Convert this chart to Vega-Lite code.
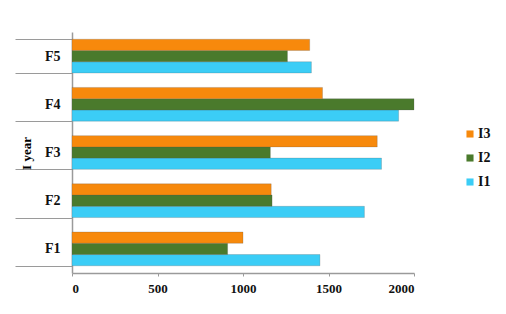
{
  "$schema": "https://vega.github.io/schema/vega-lite/v6.json",
  "width": 342,
  "height": 241,
  "autosize": "none",
  "padding": {"left": 72, "top": 32, "right": 92, "bottom": 41},
  "background": "white",
  "data": {
    "values": [
      {"year": "F1", "series": "I1", "value": 1450},
      {"year": "F1", "series": "I2", "value": 910},
      {"year": "F1", "series": "I3", "value": 1000},
      {"year": "F2", "series": "I1", "value": 1710},
      {"year": "F2", "series": "I2", "value": 1170},
      {"year": "F2", "series": "I3", "value": 1165},
      {"year": "F3", "series": "I1", "value": 1810},
      {"year": "F3", "series": "I2", "value": 1160},
      {"year": "F3", "series": "I3", "value": 1785},
      {"year": "F4", "series": "I1", "value": 1910},
      {"year": "F4", "series": "I2", "value": 2000},
      {"year": "F4", "series": "I3", "value": 1465},
      {"year": "F5", "series": "I1", "value": 1400},
      {"year": "F5", "series": "I2", "value": 1260},
      {"year": "F5", "series": "I3", "value": 1390}
    ]
  },
  "mark": {"type": "bar", "stroke": "#555555", "strokeWidth": 0.4, "strokeOpacity": 0.6},
  "encoding": {
    "y": {
      "field": "year",
      "type": "nominal",
      "sort": ["F5", "F4", "F3", "F2", "F1"],
      "scale": {"paddingInner": 0.3, "paddingOuter": 0.15},
      "axis": {
        "title": "I year",
        "titleFont": "Liberation Serif",
        "titleFontSize": 13,
        "titleFontWeight": "bold",
        "titleColor": "#000000",
        "titleX": -46,
        "titleY": 121,
        "titleAlign": "center",
        "titleBaseline": "middle",
        "labelFont": "Liberation Serif",
        "labelFontSize": 14,
        "labelFontWeight": "bold",
        "labelColor": "#111111",
        "labelPadding": -45,
        "tickBand": "extent",
        "tickSize": 57,
        "tickColor": "#9a9a9a",
        "domainColor": "#9a9a9a",
        "domainWidth": 1.5
      }
    },
    "yOffset": {"field": "series", "type": "nominal", "sort": ["I3", "I2", "I1"]},
    "x": {
      "field": "value",
      "type": "quantitative",
      "scale": {"domain": [0, 2000], "nice": false},
      "axis": {
        "title": null,
        "values": [0, 500, 1000, 1500, 2000],
        "format": "d",
        "grid": false,
        "labelFont": "Liberation Serif",
        "labelFontSize": 13,
        "labelFontWeight": "bold",
        "labelColor": "#111111",
        "labelPadding": 6,
        "tickSize": 3,
        "tickColor": "#9a9a9a",
        "domainColor": "#9a9a9a",
        "domainWidth": 1.5
      }
    },
    "color": {
      "field": "series",
      "type": "nominal",
      "scale": {"domain": ["I3", "I2", "I1"], "range": ["#F7890C", "#4A7A2C", "#3BCDF6"]},
      "legend": {
        "title": null,
        "orient": "none",
        "legendX": 391,
        "legendY": 95,
        "symbolType": "square",
        "symbolSize": 50,
        "symbolStrokeWidth": 0,
        "rowPadding": 10,
        "labelFont": "Liberation Serif",
        "labelFontSize": 14,
        "labelFontWeight": "bold",
        "labelColor": "#111111",
        "labelOffset": 1
      }
    }
  },
  "config": {"view": {"stroke": null}}
}
